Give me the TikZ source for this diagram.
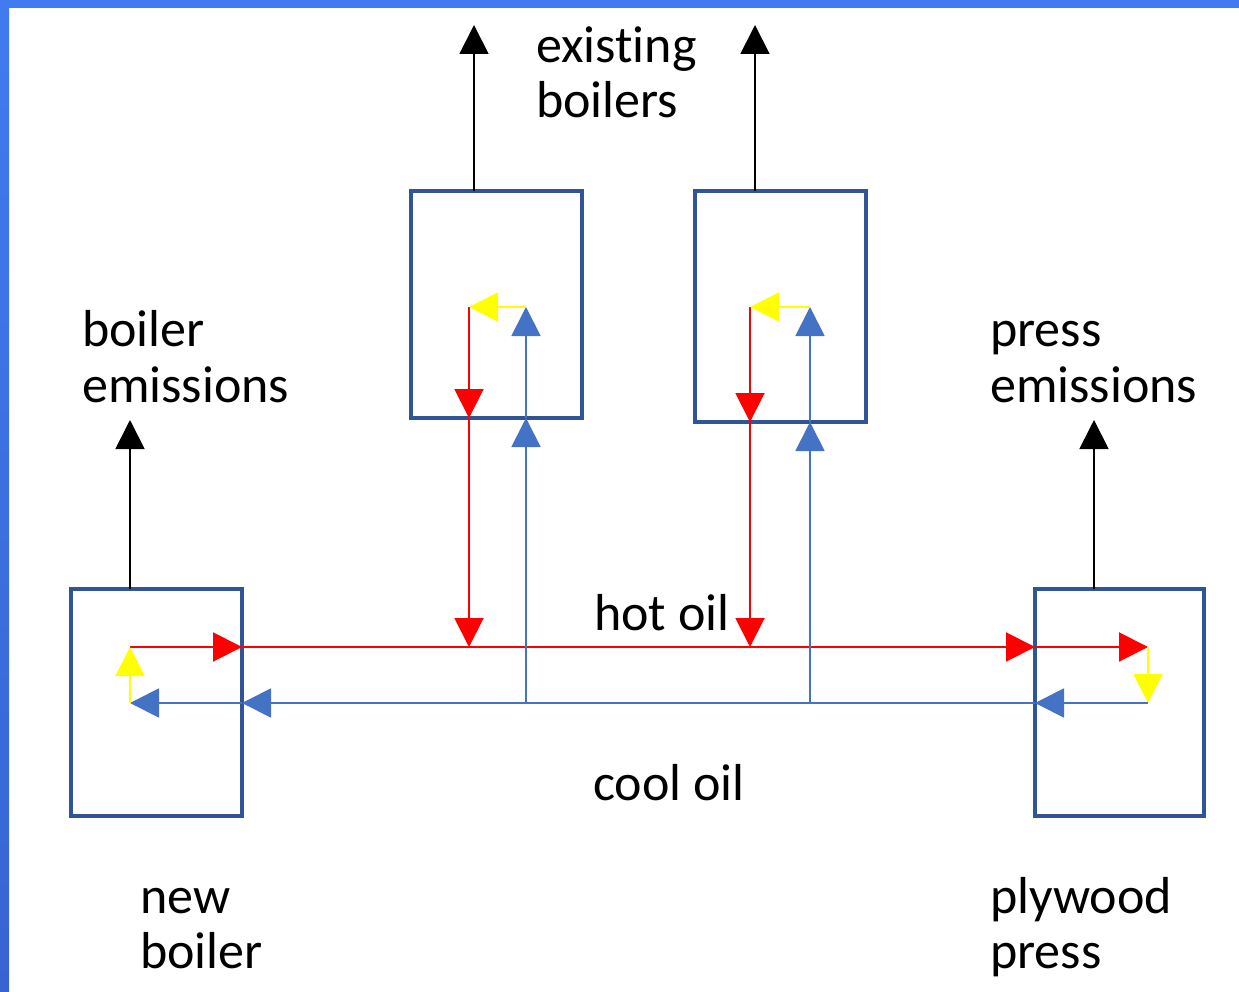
\documentclass[tikz,border=0pt]{standalone}
\usepackage{fontspec}
\setmainfont{Carlito}[Ligatures={NoCommon}]
\usetikzlibrary{arrows.meta}
\definecolor{framebluetop}{RGB}{64,123,240}
\definecolor{frameblueb}{RGB}{56,100,210}
\definecolor{boxblue}{RGB}{47,85,151}
\definecolor{hotred}{RGB}{255,0,0}
\definecolor{coolblue}{RGB}{68,114,196}
\definecolor{swapyellow}{RGB}{255,255,0}
\begin{document}
\begin{tikzpicture}[x=1pt,y=-1pt,
  box/.style={draw=boxblue,line width=3.5pt,minimum width=171pt,minimum height=227pt,inner sep=0pt,outer sep=0pt},
  lbl/.style={anchor=base west,inner sep=0pt,font=\fontsize{52}{55}\selectfont},
  arr/.style={-{Triangle[length=29pt,width=29pt]}},
  hot/.style={arr,draw=hotred,line width=2pt},
  cool/.style={arr,draw=coolblue,line width=1.8pt},
  swap/.style={arr,draw=swapyellow,line width=2pt},
  blk/.style={arr,draw=black,line width=1.8pt}]
% canvas and frame
\useasboundingbox (0,0) rectangle (1239,992);
\fill[white] (0,0) rectangle (1239,992);
\fill[framebluetop] (0,0) rectangle (1239,8);
\shade[top color=framebluetop,bottom color=frameblueb] (0,0) rectangle (9,992);
% boxes
\node[box] (A) at (156.5,702.5) {};
\node[box] (B) at (496.5,304.5) {};
\node[box,minimum height=231pt] (C) at (780.5,306.5) {};
\node[box,minimum width=169pt] (D) at (1119.5,702.5) {};
% junction coordinates
\coordinate (aH) at (130,647);
\coordinate (aC) at (130,703);
\coordinate (dH) at (1148,647);
\coordinate (dC) at (1148,703);
\coordinate (bR) at (469,307);
\coordinate (bB) at (526,307);
\coordinate (cR) at (750,307);
\coordinate (cB) at (810,307);
\coordinate (eA) at (130,420);
\coordinate (eB) at (474,25);
\coordinate (eC) at (755,25);
\coordinate (eD) at (1094,420);
% hot oil loop
\draw[hot] (aH) -- (aH -| A.east);
\draw[hot] (aH -| A.east) -- (aH -| D.west);
\draw[hot] (aH -| D.west) -- (dH);
\draw[swap] (dH) -- (dC);
\draw[cool] (dC) -- (dC -| D.west);
\draw[cool] (dC -| D.west) -- (dC -| A.east);
\draw[cool] (dC -| A.east) -- (aC);
\draw[swap] (aC) -- (aH);
% existing boiler 1
\draw[hot] (bR) -- (bR |- B.south);
\draw[hot] (bR |- B.south) -- (bR |- aH);
\draw[cool] (bB |- aC) -- (bB |- B.south);
\draw[cool] (bB |- B.south) -- (bB);
\draw[swap] (bB) -- (bR);
% existing boiler 2
\draw[hot] (cR) -- (cR |- C.south);
\draw[hot] (cR |- C.south) -- (cR |- aH);
\draw[cool] (cB |- aC) -- (cB |- C.south);
\draw[cool] (cB |- C.south) -- (cB);
\draw[swap] (cB) -- (cR);
% emissions
\draw[blk] (eA |- A.north) -- (eA);
\draw[blk] (eB |- B.north) -- (eB);
\draw[blk] (eC |- C.north) -- (eC);
\draw[blk] (eD |- D.north) -- (eD);
% labels
\node[lbl] (t1) at (536,63) {existing};
\node[lbl] (t2) at (536,118) {boilers};
\node[lbl] (t3) at (82,346) {boiler};
\node[lbl] (t4) at (82,402) {emissions};
\node[lbl] (t5) at (990,346) {press};
\node[lbl] (t6) at (990,402) {emissions};
\node[lbl] (t7) at (594,630) {hot oil};
\node[lbl] (t8) at (593,800) {cool oil};
\node[lbl] (t9) at (140,913) {new};
\node[lbl] (t10) at (140,968) {boiler};
\node[lbl] (t11) at (990,913) {plywood};
\node[lbl] (t12) at (990,968) {press};
\end{tikzpicture}
\end{document}
